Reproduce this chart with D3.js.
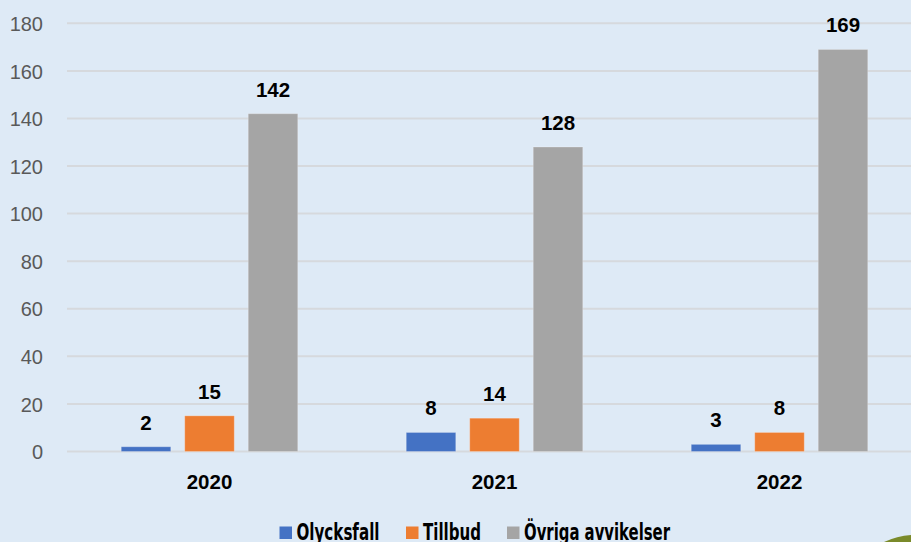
<!DOCTYPE html>
<html><head><meta charset="utf-8">
<script src="https://cdn.jsdelivr.net/npm/d3@7"></script>
<style>
html,body{margin:0;padding:0;background:#DEEAF6;overflow:hidden}
svg{display:block}
</style></head>
<body><svg id="c" width="911" height="542"></svg>
<script>
const categories = ["2020", "2021", "2022"];
const seriesNames = ["Olycksfall", "Tillbud", "Övriga avvikelser"];
const olycksfall = [2, 8, 3];
const tillbud = [15, 14, 8];
const ovriga = [142, 128, 169];
const yTicks = [0, 20, 40, 60, 80, 100, 120, 140, 160, 180];
const colors = ["#4472C4", "#ED7D31", "#A5A5A5"];

const values = [olycksfall, tillbud, ovriga];
const svg = d3.select("#c");
svg.append("rect").attr("width", 911).attr("height", 542).attr("fill", "#DEEAF6");

const x = d3.scaleBand().domain(categories).range([67, 922]).padding(0);
const xs = d3.scaleBand().domain(seriesNames).range([-95.25, 95.25]).paddingInner(0.22).paddingOuter(0.11);
const y = d3.scaleLinear().domain([0, 180]).range([451.5, 23.3]);

// gridlines
svg.append("g").selectAll("line").data(yTicks).join("line")
  .attr("x1", 67).attr("x2", 911)
  .attr("y1", d => y(d)).attr("y2", d => y(d))
  .attr("stroke", "#D6D9DD").attr("stroke-width", 2);

// y axis labels
const yAxis = d3.axisLeft(y).tickValues(yTicks).tickSize(0).tickPadding(0);
const gy = svg.append("g").attr("transform", "translate(43,0)").call(yAxis);
gy.select(".domain").remove();
gy.selectAll("text").attr("font-family", "'Liberation Sans', Arial, sans-serif")
  .attr("font-size", 20).attr("fill", "#595959").attr("dy", "0.36em");

// x axis labels
const xAxis = d3.axisBottom(x).tickSize(0).tickPadding(0);
const gx = svg.append("g").attr("transform", "translate(0,472)").call(xAxis);
gx.select(".domain").remove();
gx.selectAll("text").attr("font-family", "'Liberation Sans', Arial, sans-serif")
  .attr("font-size", 20.5).attr("font-weight", "bold").attr("fill", "#000").attr("dy", "0.85em");

// bars
seriesNames.forEach((s, si) => {
  const g = svg.append("g");
  g.selectAll("rect").data(categories).join("rect")
    .attr("x", c => x(c) + x.bandwidth() / 2 + xs(s))
    .attr("width", xs.bandwidth())
    .attr("y", (c, i) => y(values[si][i]))
    .attr("height", (c, i) => y(0) - y(values[si][i]))
    .attr("fill", colors[si])
    .attr("stroke", "rgba(255,255,255,0.25)").attr("stroke-width", 1);
  g.selectAll("text").data(categories).join("text")
    .attr("x", c => x(c) + x.bandwidth() / 2 + xs(s) + xs.bandwidth() / 2)
    .attr("y", (c, i) => y(values[si][i]) - 17)
    .attr("text-anchor", "middle")
    .attr("font-family", "'Liberation Sans', Arial, sans-serif")
    .attr("font-size", 20.5).attr("font-weight", "bold").attr("fill", "#000")
    .text((c, i) => values[si][i]);
});

// legend
const legX = [279.5, 406, 507];
const legW = [83, 58, 146];
const leg = svg.append("g");
seriesNames.forEach((s, i) => {
  leg.append("rect").attr("x", legX[i]).attr("y", 526.5).attr("width", 12.5).attr("height", 12.5).attr("fill", colors[i]);
  leg.append("text").attr("x", legX[i] + 17).attr("y", 539.5)
    .attr("font-family", "'Liberation Sans Narrow', 'DejaVu Sans Condensed', 'Liberation Sans', sans-serif")
    .attr("font-stretch", "condensed")
    .attr("font-size", 22.5).attr("font-weight", "bold").attr("fill", "#000")
    .attr("textLength", legW[i]).attr("lengthAdjust", "spacingAndGlyphs")
    .text(s);
});

// decorative corner
svg.append("path").attr("d", "M884,542 Q897,536 911,535 L911,542 Z").attr("fill", "#7a8a2a");
</script></body></html>
